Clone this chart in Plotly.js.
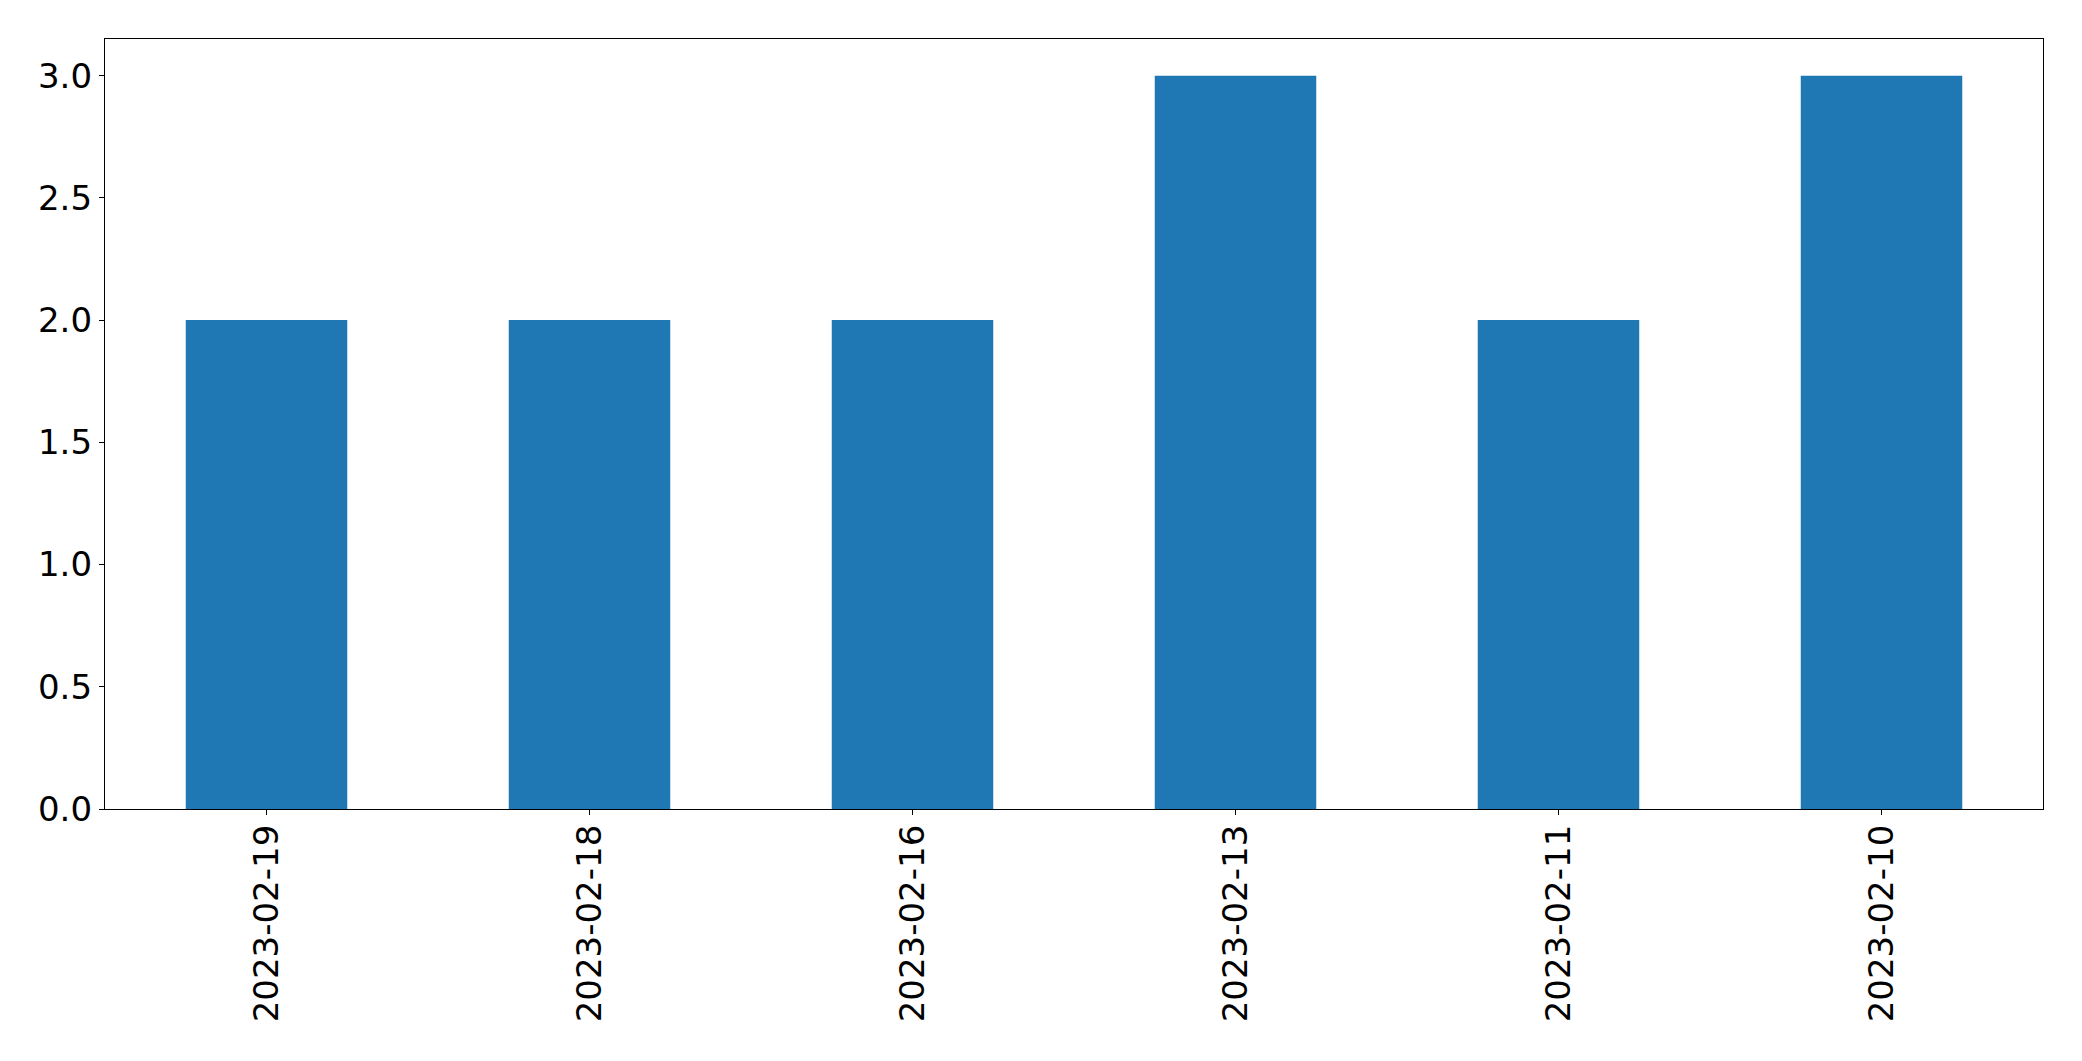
<!DOCTYPE html>
<html>
<head>
<meta charset="utf-8">
<script src="https://cdn.plot.ly/plotly-3.0.1.min.js"></script>
<style>html,body{margin:0;padding:0;background:#fff;}#chart{width:2082px;height:1061px;}</style>
</head>
<body>
<div id="chart"></div>
<script>
const categories = ["2023-02-19", "2023-02-18", "2023-02-16", "2023-02-13", "2023-02-11", "2023-02-10"];
const values = [2, 2, 2, 3, 2, 3];
const yTickVals = [0, 0.5, 1, 1.5, 2, 2.5, 3];
const yTickText = ["0.0", "0.5", "1.0", "1.5", "2.0", "2.5", "3.0"];

const trace = {
  type: "bar",
  x: categories,
  y: values,
  width: 0.5,
  marker: {color: "#1f77b4", line: {width: 0}},
  hoverinfo: "x+y"
};

const layout = {
  width: 2082,
  height: 1061,
  margin: {l: 105, r: 39, t: 39, b: 252, pad: 0},
  paper_bgcolor: "#ffffff",
  plot_bgcolor: "#ffffff",
  font: {family: "DejaVu Sans", size: 34, color: "#000000"},
  showlegend: false,
  bargap: 0.5,
  xaxis: {
    type: "category",
    range: [-0.5, 5.5],
    tickangle: -90,
    ticks: "outside",
    ticklen: 5,
    tickwidth: 1.1,
    tickcolor: "#000",
    showline: true,
    linecolor: "#000",
    linewidth: 1.3,
    mirror: true,
    showgrid: false,
    zeroline: false,
    ticklabelstandoff: -4,
    tickfont: {family: "DejaVu Sans", size: 34, color: "#000"}
  },
  yaxis: {
    range: [0, 3.15],
    tickmode: "array",
    tickvals: yTickVals,
    ticktext: yTickText,
    ticks: "outside",
    ticklen: 5,
    tickwidth: 1.1,
    tickcolor: "#000",
    showline: true,
    linecolor: "#000",
    linewidth: 1.3,
    mirror: true,
    showgrid: false,
    zeroline: false,
    ticklabelstandoff: 0,
    tickfont: {family: "DejaVu Sans", size: 34, color: "#000"}
  }
};

Plotly.newPlot("chart", [trace], layout, {displayModeBar: false, responsive: false});
</script>
</body>
</html>
